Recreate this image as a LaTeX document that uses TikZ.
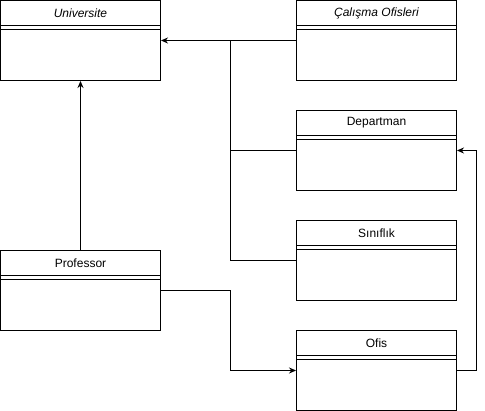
\documentclass[tikz,border=0pt]{standalone}
\usepackage{fontspec}
\setmainfont{Liberation Sans}
\usetikzlibrary{arrows.meta,positioning}

\begin{document}
\begin{tikzpicture}[
  x=1pt, y=-1pt,
  umlclass/.style={draw, rectangle, line width=1pt, minimum width=160pt, minimum height=80pt, inner sep=0pt},
  title/.style={font=\fontsize{12}{14}\selectfont, inner sep=0pt},
  arrow/.style={-{Stealth[length=7pt,width=6pt]}, line width=1pt},
  link/.style={line width=1pt}
]
\useasboundingbox (0,0) rectangle (485,411);
\node[umlclass] (univ) at (80.5,40.5) {};
\node[umlclass] (calisma) at (376.5,40.5) {};
\node[umlclass] (dept) at (376.5,150.5) {};
\node[umlclass] (sinif) at (376.5,260.5) {};
\node[umlclass] (ofis) at (376.5,370.5) {};
\node[umlclass] (prof) at (80.5,290.5) {};
% header titles
\node[title, font=\fontsize{12}{14}\selectfont\itshape] (univt) at ([yshift=-13pt]univ.north) {Universite};
\node[title, font=\fontsize{12}{14}\selectfont\itshape] (calismat) at ([yshift=-13pt]calisma.north) {Çalışma Ofisleri};
\node[title] (deptt) at ([yshift=-13pt]dept.north) {Departman};
\node[title] (sinift) at ([yshift=-13pt]sinif.north) {Sınıflık};
\node[title] (ofist) at ([yshift=-13pt]ofis.north) {Ofis};
\node[title] (proft) at ([yshift=-13pt]prof.north) {Professor};
% header separators
\foreach \c in {univ,calisma,dept,sinif,ofis,prof} {
  \draw[link] ([yshift=-26pt]\c.north west) -- ([yshift=-26pt]\c.north east);
  \draw[link] ([yshift=-30pt]\c.north west) -- ([yshift=-30pt]\c.north east);
}
% connectors
\coordinate (bus) at (230.5,40.5);
\draw[arrow] (calisma.west) -- (univ.east);
\draw[link] (dept.west) -| (bus);
\draw[link] (sinif.west) -| (bus);
\draw[arrow] (prof.north) -- (univ.south);
\draw[arrow] (prof.east) -- (230.5,290.5) |- (ofis.west);
\draw[arrow] (ofis.east) -- (476.5,370.5) |- (dept.east);
\end{tikzpicture}
\end{document}
